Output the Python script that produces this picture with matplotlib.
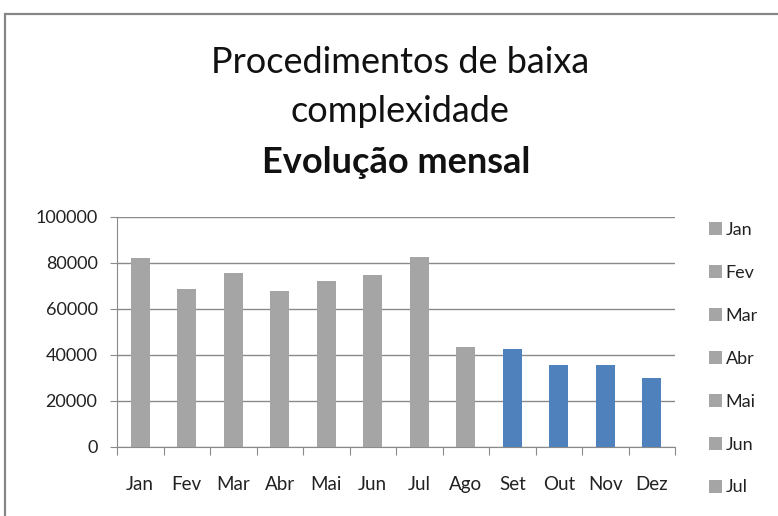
import matplotlib
matplotlib.use("Agg")
import matplotlib.pyplot as plt
from matplotlib.patches import Rectangle

meses = ["Jan", "Fev", "Mar", "Abr", "Mai", "Jun", "Jul", "Ago", "Set", "Out", "Nov", "Dez"]
procedimentos = [82000, 68600, 75500, 67700, 72000, 74500, 82300, 43200, 42600, 35400, 35400, 29900]
cores = ["#A5A5A5"] * 8 + ["#4F81BD"] * 4

plt.rcParams["font.family"] = ["Lato", "DejaVu Sans"]
W, H = 778, 516
fig = plt.figure(figsize=(W / 100, H / 100), dpi=100)

# moldura do gráfico (cortada à direita e embaixo)
fig.patches.append(Rectangle((5 / W, -0.1), 1.2, (H - 13.5) / H + 0.1,
                             transform=fig.transFigure, fill=False,
                             ec="#868686", lw=1.6))

ax = fig.add_axes([117 / W, (H - 446.7) / H, (675 - 117) / W, 230 / H])
x = list(range(len(meses)))
barras = ax.bar(x, procedimentos, width=0.4, color=cores, zorder=3)

ax.set_ylim(0, 100000)
ax.set_xlim(-0.5, len(meses) - 0.5)
ax.set_yticks(range(0, 100001, 20000))
ax.yaxis.grid(True, color="#8a8a8a", lw=1, zorder=0)
ax.tick_params(axis="y", length=5, color="#8a8a8a", labelsize=13, pad=9,
               labelcolor="#222222")

# marcas entre categorias, rótulos no centro
ax.set_xticks([i - 0.5 for i in range(len(meses) + 1)])
ax.set_xticklabels([])
ax.set_xticks(x, minor=True)
ax.set_xticklabels(meses, minor=True)
ax.tick_params(axis="x", which="major", length=6, color="#8a8a8a")
ax.tick_params(axis="x", which="minor", length=0, labelsize=13.5, pad=21,
               labelcolor="#222222")

for s in ("top", "right"):
    ax.spines[s].set_visible(False)
for s in ("left", "bottom"):
    ax.spines[s].set_color("#8a8a8a")

# legenda por ponto (só cabem os primeiros meses)
n_leg = 7
ax.legend(barras[:n_leg], meses[:n_leg], loc="upper left",
          bbox_to_anchor=(709 / W, (H - 222) / H), bbox_transform=fig.transFigure,
          frameon=False, fontsize=13, handlelength=0.72, handleheight=0.72,
          handletextpad=0.2, labelspacing=1.49, borderaxespad=0, borderpad=0,
          labelcolor="#222222")

cx = 400 / W
fig.text(cx, (H - 73) / H, "Procedimentos de baixa", ha="center", va="baseline",
         fontsize=26, color="#111111")
fig.text(cx, (H - 122) / H, "complexidade", ha="center", va="baseline",
         fontsize=26, color="#111111")
fig.text(396 / W, (H - 173) / H, "Evolução mensal", ha="center", va="baseline",
         fontsize=26, fontweight="bold", color="#111111")

fig.savefig("out.png", dpi=100)
